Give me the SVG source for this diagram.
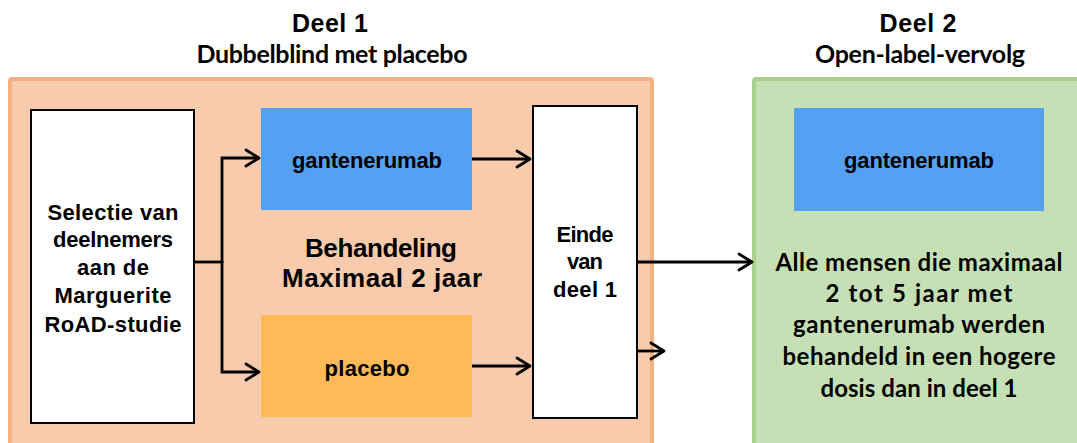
<svg xmlns="http://www.w3.org/2000/svg" width="1077" height="443" viewBox="0 0 1077 443">
  <defs>
    <marker id="arr" markerUnits="userSpaceOnUse" markerWidth="20" markerHeight="22" refX="15" refY="10" orient="auto">
      <path d="M2,2 L15,10 L2,18" fill="none" stroke="#000" stroke-width="2.8" stroke-linecap="round" stroke-linejoin="round"/>
    </marker>
    <style>
      .title{font-family:"Liberation Sans",Arial,sans-serif;font-weight:bold;font-size:25px;fill:#000;text-anchor:middle}
      .sub{font-family:Lato,"Open Sans",sans-serif;font-weight:bold;font-size:25px;fill:#000;text-anchor:middle}
      .lbl{font-family:"Liberation Sans",Arial,sans-serif;font-weight:bold;font-size:22px;fill:#000;text-anchor:middle}
      .big{font-family:"Liberation Sans",Arial,sans-serif;font-weight:bold;font-size:26px;fill:#000;text-anchor:middle}
      .cal{font-family:Lato,"Open Sans",sans-serif;font-weight:bold;font-size:24px;fill:#000;text-anchor:middle}
      .conn{fill:none;stroke:#000;stroke-width:2.8}
      .box{fill:#fff;stroke:#000;stroke-width:2}
    </style>
  </defs>
  <rect width="1077" height="443" fill="#fff"/>

  <g id="deel1-panel">
    <rect x="10" y="79" width="642" height="380" rx="2" fill="#F8CBAD" stroke="#F4B183" stroke-width="4"/>
    <text class="title" x="330" y="32" textLength="76">Deel 1</text>
    <text class="sub" x="332" y="63" textLength="271">Dubbelblind met placebo</text>
    <text class="big" x="381" y="257" textLength="152">Behandeling</text>
    <text class="big" x="382" y="287" textLength="200">Maximaal 2 jaar</text>
  </g>

  <g id="deel2-panel">
    <rect x="754" y="79" width="340" height="380" rx="2" fill="#C5E0B4" stroke="#A9D18E" stroke-width="4"/>
    <text class="title" x="918" y="32" textLength="77">Deel 2</text>
    <text class="sub" x="920" y="63" textLength="210">Open-label-vervolg</text>
  </g>

  <g id="selectie">
    <rect class="box" x="31" y="110" width="163" height="313"/>
    <text class="lbl" x="113" y="220" textLength="131">Selectie van</text>
    <text class="lbl" x="113" y="247" textLength="120">deelnemers</text>
    <text class="lbl" x="113" y="275" textLength="72">aan de</text>
    <text class="lbl" x="113" y="303" textLength="117">Marguerite</text>
    <text class="lbl" x="113" y="332" textLength="137">RoAD-studie</text>
  </g>

  <g id="gantenerumab1">
    <rect x="261" y="108" width="211" height="102" fill="#55A0F2"/>
    <text class="lbl" x="367" y="168" textLength="150">gantenerumab</text>
  </g>

  <g id="placebo">
    <rect x="261" y="315" width="211" height="102" fill="#FFBA57"/>
    <text class="lbl" x="367" y="376" textLength="85">placebo</text>
  </g>

  <g id="einde">
    <rect class="box" x="533" y="106" width="104" height="312"/>
    <text class="lbl" x="585" y="242" textLength="57">Einde</text>
    <text class="lbl" x="585" y="269" textLength="36">van</text>
    <text class="lbl" x="585" y="297" textLength="64">deel 1</text>
  </g>

  <g id="gantenerumab2">
    <rect x="794" y="108" width="250" height="103" fill="#55A0F2"/>
    <text class="lbl" x="919" y="168" textLength="150">gantenerumab</text>
  </g>

  <g id="deel2-tekst">
    <text class="cal" x="919" y="271" textLength="287">Alle mensen die maximaal</text>
    <text class="cal" x="919" y="302" textLength="187">2 tot 5 jaar met</text>
    <text class="cal" x="919" y="333" textLength="252">gantenerumab werden</text>
    <text class="cal" x="919" y="365" textLength="273">behandeld in een hogere</text>
    <text class="cal" x="919" y="397" textLength="197">dosis dan in deel 1</text>
  </g>

  <g id="connectors">
    <path class="conn" d="M194,262 H222"/>
    <path class="conn" d="M222,263 V158 H259" marker-end="url(#arr)"/>
    <path class="conn" d="M222,261 V372 H259" marker-end="url(#arr)"/>
    <path class="conn" d="M472,159 H530" marker-end="url(#arr)"/>
    <path class="conn" d="M472,366 H530" marker-end="url(#arr)"/>
    <path class="conn" d="M637,262 H752" marker-end="url(#arr)"/>
    <path class="conn" d="M637,351 H664" marker-end="url(#arr)"/>
  </g>
</svg>
